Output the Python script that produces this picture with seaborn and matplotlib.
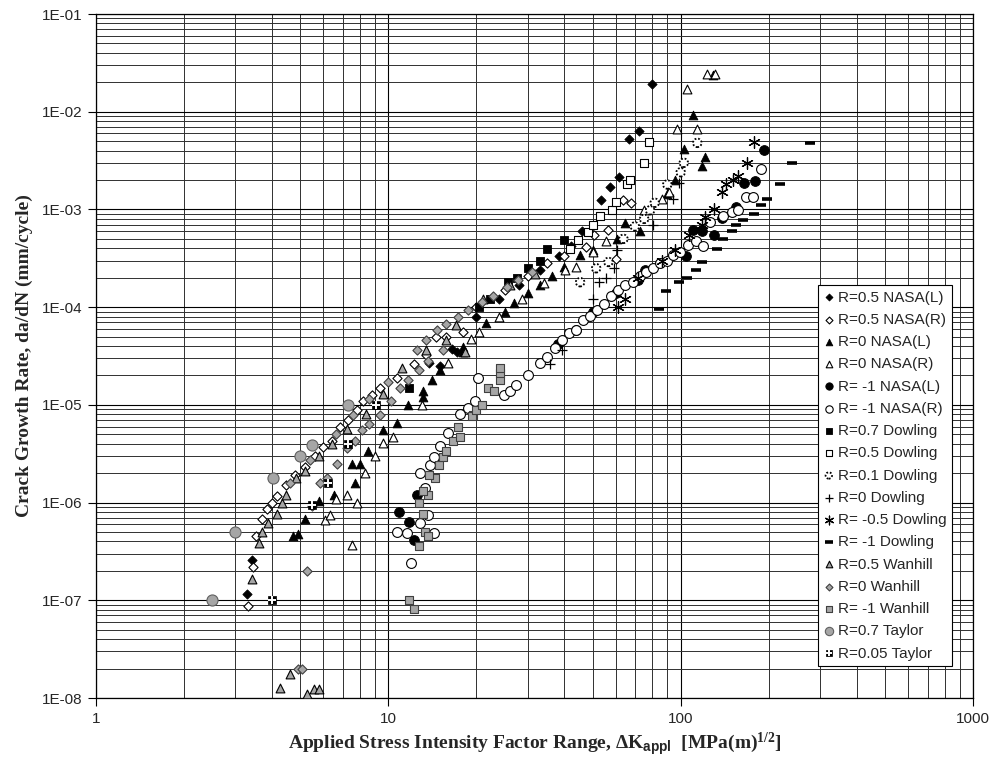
import numpy as np
import pandas as pd
import matplotlib
matplotlib.use("Agg")
import matplotlib.pyplot as plt
from matplotlib.ticker import LogLocator, FuncFormatter, NullFormatter
import seaborn as sns

# ---------------- data ----------------
r05_nasa_l_x = [3.29, 3.41, 13.8, 15.0, 16.5, 17.2, 20.0, 24.0, 28.0, 33.0, 38.5, 42.0, 46.1, 53.3, 57.3, 61.7, 66.6, 72.2, 79.6]
r05_nasa_l_y = [1.15e-7, 2.6e-7, 2.7e-5, 2.5e-5, 3.7e-5, 3.5e-5, 8e-5, 1.2e-4, 1.7e-4, 2.4e-4, 3.3e-4, 4.2e-4, 6e-4, 1.25e-3, 1.7e-3, 2.16e-3, 5.2e-3, 6.3e-3, 1.9e-2]

r05_nasa_r_x = [3.32, 3.45, 3.53, 3.69, 3.85, 3.99, 4.15, 4.47, 4.79, 5.19, 5.6, 5.98, 6.4, 6.84, 7.3, 7.8, 8.18, 8.8, 9.37, 10.7, 12.2, 13.5, 14.5, 15.8, 18.0, 20.0, 25.0, 30.0, 35.0, 40.0, 47.6, 50.6, 56.6, 60.0, 63.6, 67.8]
r05_nasa_r_y = [8.8e-8, 2.2e-7, 4.5e-7, 6.8e-7, 8.6e-7, 1.0e-6, 1.16e-6, 1.5e-6, 1.9e-6, 2.3e-6, 3e-6, 3.7e-6, 4.3e-6, 5.9e-6, 7.0e-6, 8.9e-6, 1.1e-5, 1.27e-5, 1.48e-5, 1.9e-5, 2.6e-5, 3.2e-5, 5e-5, 5e-5, 5.6e-5, 1e-4, 1.5e-4, 2.1e-4, 2.8e-4, 3.3e-4, 4.1e-4, 5.5e-4, 6.1e-4, 3.1e-4, 1.25e-3, 1.15e-3]

r0_nasa_l_x = [4.71, 4.9, 5.18, 5.77, 6.5, 7.5, 7.7, 8.0, 8.5, 9.6, 10.7, 11.7, 13.1, 13.1, 14.1, 15.0, 18.0, 18.0, 21.6, 25.0, 27.0, 30.0, 33.0, 36.3, 40.0, 45.3, 50.0, 60.6, 64.7, 72.6, 90.0, 95.8, 103.0, 110.0, 118.0, 121.0, 128.5]
r0_nasa_l_y = [4.6e-7, 4.8e-7, 6.8e-7, 1.05e-6, 1.2e-6, 2.5e-6, 1.6e-6, 2.5e-6, 3.4e-6, 5.5e-6, 6.5e-6, 1.0e-5, 1.2e-5, 1.4e-5, 1.8e-5, 2.3e-5, 3.5e-5, 3.9e-5, 6.9e-5, 9e-5, 1.1e-4, 1.4e-4, 1.7e-4, 2.1e-4, 2.6e-4, 3.4e-4, 3.8e-4, 5.0e-4, 7.3e-4, 6e-4, 1.45e-3, 2e-3, 4.2e-3, 9.2e-3, 2.8e-3, 3.4e-3, 2.4e-2]

r0_nasa_r_x = [6.07, 6.3, 6.6, 7.2, 7.5, 7.8, 8.3, 9.0, 9.6, 10.4, 13.0, 16.0, 19.2, 20.4, 24.0, 28.6, 34.1, 40.3, 44.0, 50.3, 55.7, 74.8, 86.5, 91.5, 97.5, 105.5, 114.0, 123.5, 131.5]
r0_nasa_r_y = [6.6e-7, 7.5e-7, 1.1e-6, 1.2e-6, 3.7e-7, 1.0e-6, 2.0e-6, 3.0e-6, 4.1e-6, 4.7e-6, 1.0e-5, 2.7e-5, 4.7e-5, 5.6e-5, 8e-5, 1.2e-4, 1.75e-4, 2.4e-4, 2.6e-4, 3.7e-4, 4.8e-4, 9.9e-4, 1.27e-3, 1.5e-3, 6.6e-3, 1.7e-2, 6.7e-3, 2.45e-2, 2.45e-2]

rm1_nasa_l_x = [10.85, 11.8, 12.2, 12.5, 38.0, 44.0, 50.0, 60.0, 71.5, 75.4, 104.6, 110.0, 118.0, 130.0, 139.0, 155.0, 165.0, 180.0, 193.5]
rm1_nasa_l_y = [8e-7, 6.4e-7, 4.1e-7, 1.2e-6, 4.2e-5, 5.9e-5, 9e-5, 1.4e-4, 1.9e-4, 2.4e-4, 3.3e-4, 6.1e-4, 6e-4, 5.5e-4, 8.1e-4, 1.06e-3, 1.85e-3, 1.97e-3, 4.1e-3]

rm1_nasa_r_x = [10.7, 11.6, 12.0, 12.8, 13.7, 14.3, 13.4, 12.8, 13.9, 14.3, 15.0, 16.0, 17.6, 18.8, 19.8, 20.2, 24.9, 26.1, 27.3, 30.0, 33.0, 34.9, 37.2, 39.4, 41.6, 44.0, 46.5, 48.9, 51.9, 54.8, 57.6, 61.0, 64.7, 68.5, 72.6, 76.4, 80.6, 85.0, 89.5, 94.3, 99.4, 106.0, 113.0, 119.0, 126.0, 140.0, 150.0, 157.0, 167.0, 177.0, 188.0]
rm1_nasa_r_y = [5e-7, 4.9e-7, 2.4e-7, 6.2e-7, 7.5e-7, 4.9e-7, 1.4e-6, 2e-6, 2.4e-6, 2.9e-6, 3.8e-6, 5.2e-6, 8.1e-6, 9.3e-6, 1.1e-5, 1.9e-5, 1.25e-5, 1.4e-5, 1.6e-5, 2e-5, 2.7e-5, 3.1e-5, 3.8e-5, 4.6e-5, 5.4e-5, 5.9e-5, 7.3e-5, 8.2e-5, 9.3e-5, 1.07e-4, 1.29e-4, 1.5e-4, 1.69e-4, 1.82e-4, 2.1e-4, 2.3e-4, 2.5e-4, 2.8e-4, 3.0e-4, 3.4e-4, 3.7e-4, 4.3e-4, 4.8e-4, 4.2e-4, 7.5e-4, 8.5e-4, 9.5e-4, 9.8e-4, 1.34e-3, 1.33e-3, 2.6e-3]

r07_dowling_x = [11.8, 20.4, 22.3, 25.7, 27.6, 30.1, 32.9, 34.9, 40.0]
r07_dowling_y = [1.5e-5, 1.0e-4, 1.2e-4, 1.8e-4, 2.0e-4, 2.5e-4, 3.0e-4, 3.9e-4, 4.9e-4]

r05_dowling_x = [41.8, 44.4, 48.3, 50.0, 53.0, 58.0, 60.0, 65.4, 67.0, 75.0, 78.0]
r05_dowling_y = [3.9e-4, 4.9e-4, 5.9e-4, 6.9e-4, 8.5e-4, 9.9e-4, 1.18e-3, 1.8e-3, 2.0e-3, 3.0e-3, 4.9e-3]

r01_dowling_x = [45.3, 51.4, 56.6, 63.7, 69.7, 75.0, 78.6, 81.5, 90.0, 100.0, 102.5, 114.0]
r01_dowling_y = [1.8e-4, 2.5e-4, 2.9e-4, 5e-4, 6.7e-4, 8e-4, 9.8e-4, 1.17e-3, 1.8e-3, 2.4e-3, 3e-3, 4.8e-3]

r0_dowling_x = [35.8, 39.2, 50.0, 52.7, 55.7, 59.0, 60.6, 80.6, 94.0, 98.5]
r0_dowling_y = [2.6e-5, 3.6e-5, 1.2e-4, 1.8e-4, 2.0e-4, 2.5e-4, 3.8e-4, 6.9e-4, 1.27e-3, 1.85e-3]

rm05_dowling_x = [61.0, 64.7, 71.5, 86.0, 96.0, 107.0, 118.0, 121.0, 130.0, 139.0, 143.0, 151.0, 157.0, 169.0, 178.0]
rm05_dowling_y = [1.0e-4, 1.2e-4, 2.0e-4, 3e-4, 3.8e-4, 5.5e-4, 7.0e-4, 8.3e-4, 1e-3, 1.5e-3, 1.8e-3, 2e-3, 2.2e-3, 3e-3, 4.9e-3]

rm1_dowling_x = [84.0, 89.0, 99.0, 105.0, 113.0, 118.0, 133.0, 140.0, 150.0, 155.0, 163.0, 178.0, 189.0, 197.0, 218.0, 241.0, 278.0]
rm1_dowling_y = [9.5e-5, 1.46e-4, 1.8e-4, 2.0e-4, 2.4e-4, 2.9e-4, 3.9e-4, 5e-4, 6e-4, 6.9e-4, 7.8e-4, 8.9e-4, 1.1e-3, 1.27e-3, 1.8e-3, 3.0e-3, 4.8e-3]

r05_wanhill_x = [4.26, 4.61, 5.28, 5.55, 5.8, 3.41, 3.62, 3.7, 3.88, 4.15, 4.32, 4.47, 4.83, 5.18, 5.77, 6.4, 7.2, 8.4, 9.6, 11.1, 13.5, 15.8, 17.0, 18.3, 21.1, 26.0, 31.8]
r05_wanhill_y = [1.26e-8, 1.76e-8, 1.09e-8, 1.23e-8, 1.23e-8, 1.67e-7, 3.9e-7, 5e-7, 6.2e-7, 7.6e-7, 1.0e-6, 1.2e-6, 1.8e-6, 2.1e-6, 3e-6, 4e-6, 5.7e-6, 8.1e-6, 1.3e-5, 2.4e-5, 3.6e-5, 4.6e-5, 6.5e-5, 3.5e-5, 1.2e-4, 1.7e-4, 2.2e-4]

r0_wanhill_x = [4.89, 5.06, 5.27, 5.46, 4.6, 5.4, 6.6, 7.6, 8.6, 10.0, 5.84, 6.15, 6.7, 7.2, 7.7, 8.1, 8.6, 9.4, 10.2, 11.0, 11.7, 12.7, 13.7, 15.4, 12.5, 13.5, 14.7, 15.8, 17.3, 18.8, 20.9, 22.8, 25.4, 27.8, 30.9]
r0_wanhill_y = [2.0e-8, 2.0e-8, 2e-7, 9.3e-7, 1.6e-6, 2.7e-6, 5e-6, 7.8e-6, 1.15e-5, 1.7e-5, 1.6e-6, 1.8e-6, 2.5e-6, 3.6e-6, 4.3e-6, 5.5e-6, 6.3e-6, 7.8e-6, 1.1e-5, 1.5e-5, 1.8e-5, 2.3e-5, 2.8e-5, 3.6e-5, 3.6e-5, 4.6e-5, 5.8e-5, 6.8e-5, 8e-5, 9.3e-5, 1.13e-4, 1.3e-4, 1.6e-4, 1.9e-4, 2.3e-4]

rm1_wanhill_x = [11.8, 12.2, 12.7, 13.1, 13.3, 13.7, 12.7, 13.7, 13.1, 14.4, 13.8, 14.9, 15.4, 15.8, 16.6, 17.6, 17.3, 19.5, 19.3, 20.0, 20.9, 21.9, 23.0, 24.1, 24.1, 24.1]
rm1_wanhill_y = [1e-7, 8.1e-8, 1e-6, 7.7e-7, 5e-7, 4.5e-7, 3.6e-7, 1.2e-6, 1.3e-6, 1.8e-6, 1.9e-6, 2.4e-6, 2.9e-6, 3.4e-6, 4.3e-6, 4.7e-6, 5.9e-6, 7.8e-6, 7.7e-6, 8.9e-6, 1e-5, 1.5e-5, 1.4e-5, 1.8e-5, 2.1e-5, 2.4e-5]

r07_taylor_x = [2.5, 3.0, 4.02, 5.0, 5.5, 7.3]
r07_taylor_y = [1e-7, 5e-7, 1.8e-6, 3.0e-6, 3.9e-6, 1e-5]

r005_taylor_x = [4.0, 5.46, 6.2, 7.3, 9.1]
r005_taylor_y = [1e-7, 9.5e-7, 1.6e-6, 4e-6, 1e-5]

labels = ["R=0.5 NASA(L)", "R=0.5 NASA(R)", "R=0 NASA(L)", "R=0 NASA(R)",
          "R= -1 NASA(L)", "R= -1 NASA(R)", "R=0.7 Dowling", "R=0.5 Dowling",
          "R=0.1 Dowling", "R=0 Dowling", "R= -0.5 Dowling", "R= -1 Dowling",
          "R=0.5 Wanhill", "R=0 Wanhill", "R= -1 Wanhill", "R=0.7 Taylor",
          "R=0.05 Taylor"]
xticks = [1, 10, 100, 1000]
yticks = [1e-8, 1e-7, 1e-6, 1e-5, 1e-4, 1e-3, 1e-2, 1e-1]

# ---------------- styling ----------------
sns.set_style("white")
plt.rcParams["font.family"] = ["Liberation Sans", "DejaVu Sans"]
plt.rcParams["mathtext.fontset"] = "custom"
plt.rcParams["mathtext.rm"] = "Liberation Serif:bold"
plt.rcParams["mathtext.bf"] = "Liberation Serif:bold"
plt.rcParams["mathtext.it"] = "Liberation Serif:italic:bold"
plt.rcParams["mathtext.sf"] = "Liberation Sans:bold"

GRAY = "#a6a6a6"
series = [
    (r05_nasa_l_x, r05_nasa_l_y, dict(marker="D", s=22, color="black", edgecolor="black", linewidth=0.6)),
    (r05_nasa_r_x, r05_nasa_r_y, dict(marker="D", s=22, color="white", edgecolor="black", linewidth=0.8)),
    (r0_nasa_l_x, r0_nasa_l_y, dict(marker="^", s=40, color="black", edgecolor="black", linewidth=0.6)),
    (r0_nasa_r_x, r0_nasa_r_y, dict(marker="^", s=40, color="white", edgecolor="black", linewidth=0.8)),
    (rm1_nasa_l_x, rm1_nasa_l_y, dict(marker="o", s=50, color="black", edgecolor="black", linewidth=0.6)),
    (rm1_nasa_r_x, rm1_nasa_r_y, dict(marker="o", s=50, color="white", edgecolor="black", linewidth=0.8)),
    (r07_dowling_x, r07_dowling_y, dict(marker="s", s=34, color="black", edgecolor="black", linewidth=0.6)),
    (r05_dowling_x, r05_dowling_y, dict(marker="s", s=34, color="white", edgecolor="black", linewidth=0.8)),
    (r01_dowling_x, r01_dowling_y, dict(marker="o", s=38, color="white", edgecolor="black", linewidth=1.3, linestyle=(0, (1, 1)))),
    (r0_dowling_x, r0_dowling_y, dict(marker="+", s=60, color="black", linewidth=0.9)),
    (rm05_dowling_x, rm05_dowling_y, dict(marker=(6, 2, 0), s=70, color="black", linewidth=0.9)),
    (rm1_dowling_x, rm1_dowling_y, dict(marker="_", s=50, color="black", linewidth=2.6)),
    (r05_wanhill_x, r05_wanhill_y, dict(marker="^", s=40, color=GRAY, edgecolor="black", linewidth=0.8)),
    (r0_wanhill_x, r0_wanhill_y, dict(marker="D", s=22, color=GRAY, edgecolor="#404040", linewidth=0.8)),
    (rm1_wanhill_x, rm1_wanhill_y, dict(marker="s", s=36, color=GRAY, edgecolor="#404040", linewidth=0.8)),
    (r07_taylor_x, r07_taylor_y, dict(marker="o", s=64, color=GRAY, edgecolor="#606060", linewidth=0.8)),
    (r005_taylor_x, r005_taylor_y, dict(marker="s", s=30, color="black", edgecolor="black", linewidth=0.5)),
]

fig = plt.figure(figsize=(9.91, 7.67), dpi=100)
ax = fig.add_axes([96 / 991, 1 - 698 / 767, 877 / 991, 684 / 767])

handles = []
for (xs, ys, kw), lab in zip(series, labels):
    df = pd.DataFrame({"dK": xs, "dadN": ys})
    n_before = len(ax.collections)
    sns.scatterplot(data=df, x="dK", y="dadN", ax=ax, legend=False, zorder=3, **kw)
    handles.append(ax.collections[n_before])

# white cross on the R=0.05 Taylor squares (checker look)
df_t = pd.DataFrame({"dK": r005_taylor_x, "dadN": r005_taylor_y})
n_before = len(ax.collections)
sns.scatterplot(data=df_t, x="dK", y="dadN", ax=ax, legend=False, marker="+", s=30,
                color="white", linewidth=1.4, zorder=4)
cross_handle = ax.collections[n_before]
handles[-1] = (handles[-1], cross_handle)

ax.set_xscale("log")
ax.set_yscale("log")
ax.set_xlim(1, 1000)
ax.set_ylim(1e-8, 1e-1)
ax.set_xticks(xticks)
ax.set_yticks(yticks)
ax.xaxis.set_minor_locator(LogLocator(base=10, subs=np.arange(2, 10), numticks=50))
ax.yaxis.set_minor_locator(LogLocator(base=10, subs=np.arange(2, 10), numticks=50))
ax.xaxis.set_minor_formatter(NullFormatter())
ax.yaxis.set_minor_formatter(NullFormatter())
ax.xaxis.set_major_formatter(FuncFormatter(lambda v, _: f"{v:g}"))
ax.yaxis.set_major_formatter(FuncFormatter(lambda v, _: "1E%+03d" % int(round(np.log10(v)))))

ax.grid(True, which="major", color="black", linewidth=0.8, zorder=0)
ax.grid(True, which="minor", color="#303030", linewidth=0.7, zorder=0)
ax.set_axisbelow(True)
ax.tick_params(which="major", direction="out", length=6, width=0.8, color="black",
               labelsize=11, left=True, bottom=True, top=False, right=False, pad=4)
ax.tick_params(which="minor", length=0)
for sp in ax.spines.values():
    sp.set_color("black")
    sp.set_linewidth(0.9)

ax.set_ylabel("Crack Growth Rate, da/dN (mm/cycle)", fontsize=14, fontweight="bold",
              family="Liberation Serif")
ax.yaxis.set_label_coords(-0.072, 0.5)
ax.set_xlabel(r"Applied Stress Intensity Factor Range, $\Delta$K$_{\mathsf{appl}}$  [MPa(m)$^{\mathrm{1/2}}$]",
              fontsize=14, fontweight="bold", family="Liberation Serif")
ax.xaxis.set_label_coords(0.5, -0.048)

leg = ax.legend(handles, labels, loc="lower right", bbox_to_anchor=(0.976, 0.047),
                borderaxespad=0, fontsize=11, frameon=True, fancybox=False,
                framealpha=1, edgecolor="black", handlelength=0.7, handletextpad=0.25,
                labelspacing=0.54, borderpad=0.35, markerscale=0.75)
leg.get_frame().set_linewidth(0.8)
leg.set_zorder(10)

fig.savefig("out.png", dpi=100)
